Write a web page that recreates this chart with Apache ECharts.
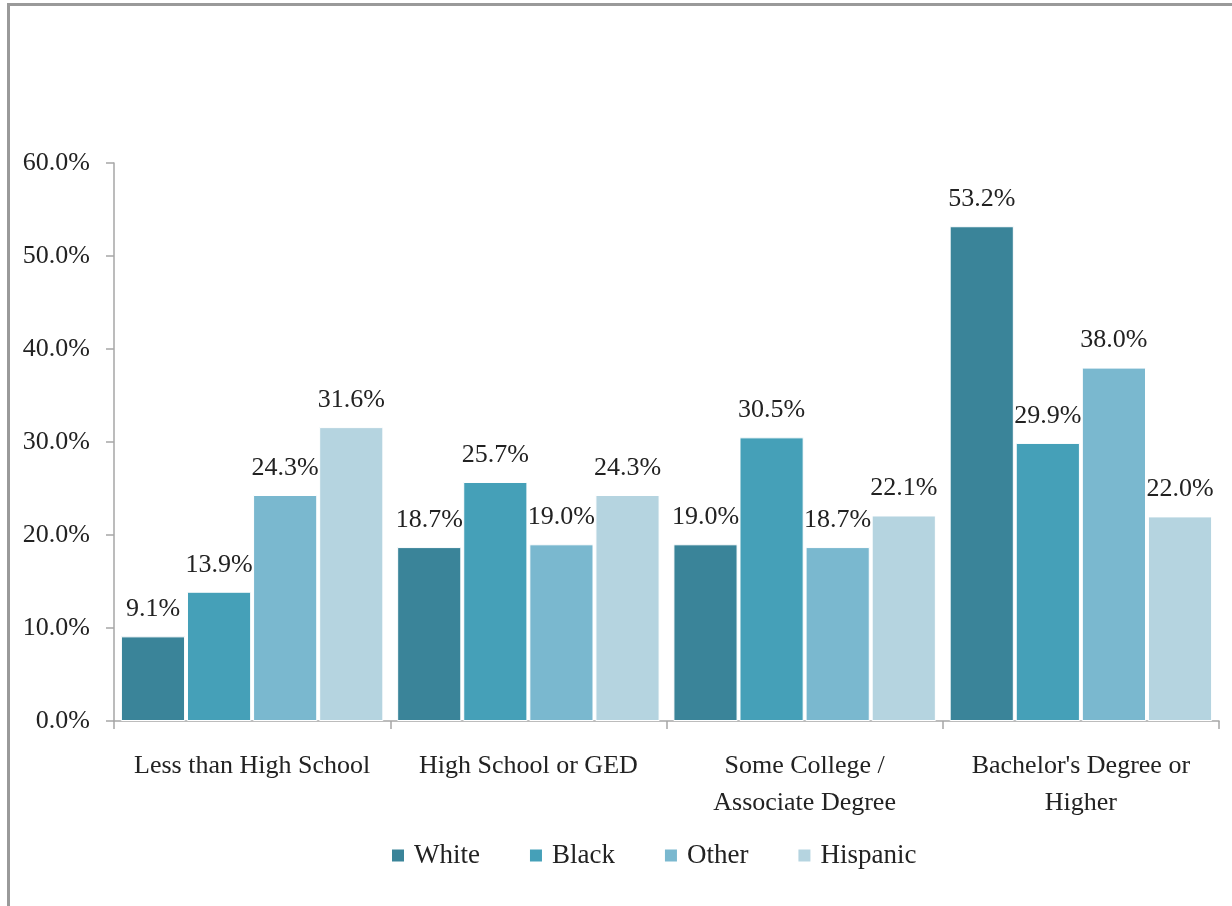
<!DOCTYPE html>
<html>
<head>
<meta charset="utf-8">
<script src="https://cdn.jsdelivr.net/npm/echarts@6/dist/echarts.min.js"></script>
<style>
html,body{margin:0;padding:0;background:#fff;}
#frame{position:absolute;left:7px;top:3px;width:1240px;height:920px;border-left:3px solid #9a9a9a;border-top:3px solid #9a9a9a;box-sizing:border-box;}
#chart{position:absolute;left:0;top:0;width:1232px;height:906px;}
</style>
</head>
<body>
<div id="frame"></div>
<div id="chart"></div>
<script>
var categories = ["Less than High School", "High School or GED", "Some College /\nAssociate Degree", "Bachelor's Degree or\nHigher"];
var seriesNames = ["White", "Black", "Other", "Hispanic"];
var white = [9.1, 18.7, 19.0, 53.2];
var black = [13.9, 25.7, 30.5, 29.9];
var other = [24.3, 19.0, 18.7, 38.0];
var hispanic = [31.6, 24.3, 22.1, 22.0];
var yTicks = [0, 10, 20, 30, 40, 50, 60];
var colors = ["#3a8499", "#45a0b8", "#7ab8cf", "#b5d4e0"];

var FONT = "Liberation Serif";
var chart = echarts.init(document.getElementById('chart'), null, {renderer: 'canvas'});
var dataSets = [white, black, other, hispanic];
var series = seriesNames.map(function (name, i) {
  return {
    name: name,
    type: 'bar',
    data: dataSets[i],
    barGap: '3%',
    barCategoryGap: '5%',
    itemStyle: {color: colors[i], borderColor: '#ffffff', borderWidth: 1},
    label: {
      show: true,
      position: 'top',
      distance: 14,
      fontFamily: FONT,
      fontSize: 26,
      color: '#222',
      formatter: function (p) { return p.value.toFixed(1) + '%'; }
    }
  };
});

chart.setOption({
  animation: false,
  backgroundColor: 'transparent',
  color: colors,
  grid: {left: 114, right: 13, top: 163, bottom: 185, containLabel: false},
  legend: {
    data: seriesNames,
    bottom: 32,
    left: 385,
    itemWidth: 14,
    itemHeight: 14,
    itemGap: 48,
    icon: 'rect',
    textStyle: {fontFamily: FONT, fontSize: 27, color: '#222', padding: [0, 0, 0, 4]}
  },
  xAxis: {
    type: 'category',
    data: categories,
    axisLine: {lineStyle: {color: '#a6a6a6', width: 1.5}},
    axisTick: {show: true, length: 8, lineStyle: {color: '#a6a6a6', width: 1.5}},
    axisLabel: {fontFamily: FONT, fontSize: 26, color: '#222', margin: 27, lineHeight: 37, interval: 0}
  },
  yAxis: {
    type: 'value',
    min: 0,
    max: 60,
    interval: 10,
    axisLine: {show: true, lineStyle: {color: '#a6a6a6', width: 1.5}},
    axisTick: {show: true, length: 8, lineStyle: {color: '#a6a6a6', width: 1.5}},
    splitLine: {show: false},
    axisLabel: {
      fontFamily: FONT, fontSize: 26, color: '#222', margin: 24,
      formatter: function (v) { return yTicks.indexOf(v) >= 0 ? v.toFixed(1) + '%' : ''; }
    }
  },
  series: series
});
</script>
</body>
</html>
